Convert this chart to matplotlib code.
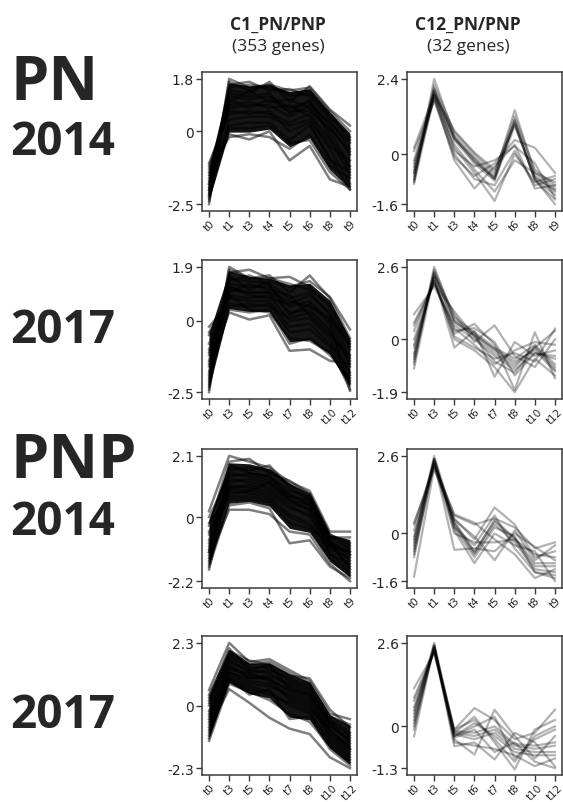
import numpy as np
import matplotlib
matplotlib.use("Agg")
import matplotlib.pyplot as plt

# ---------------- data ----------------
times_2014 = ["t0", "t1", "t3", "t4", "t5", "t6", "t8", "t9"]
times_2017 = ["t0", "t3", "t5", "t6", "t7", "t8", "t10", "t12"]

col_titles = ["C1_PN/PNP", "C12_PN/PNP"]
col_counts = ["(353 genes)", "(32 genes)"]
row_groups = ["PN", "PNP"]
row_years = ["2014", "2017", "2014", "2017"]

# y tick values (max, 0, min) per panel
ticks_pn14_c1 = [1.8, 0, -2.5]
ticks_pn14_c12 = [2.4, 0, -1.6]
ticks_pn17_c1 = [1.9, 0, -2.5]
ticks_pn17_c12 = [2.6, 0, -1.9]
ticks_pnp14_c1 = [2.1, 0, -2.2]
ticks_pnp14_c12 = [2.6, 0, -1.6]
ticks_pnp17_c1 = [2.3, 0, -2.3]
ticks_pnp17_c12 = [2.6, 0, -1.3]

pn14_c1 = [
    [-2.5, 1.8, 1.5, 1.6, 1.2, 1.3, 0.6, -0.3],
    [-2.2, 1.6, 1.7, 1.4, 1.45, 1.2, 0.4, -0.6],
    [-2.0, 1.4, 1.3, 1.7, 1.0, 1.55, 0.75, 0.2],
    [-1.8, 1.2, 1.1, 1.2, 0.8, 1.0, 0.2, -0.8],
    [-1.5, 1.0, 1.4, 1.0, 1.1, 0.8, 0.0, -1.2],
    [-1.2, 0.8, 0.9, 0.9, 0.5, 0.9, 0.3, -0.4],
    [-1.1, 0.6, 0.7, 0.6, 0.3, 0.6, -0.3, -1.5],
    [-1.9, 0.4, 0.5, 0.5, 0.2, 0.4, -0.6, -1.8],
    [-2.3, 0.2, 0.3, 0.3, -0.3, 0.2, -0.9, -2.0],
    [-1.4, -0.2, -0.1, -0.2, -0.6, -0.1, -1.2, -1.6],
    [-1.7, -0.1, -0.28, 0.0, -1.0, -0.5, -1.65, -1.9],
    [-2.4, 1.3, 1.2, 1.3, 0.6, 1.1, -0.2, -1.3],
    [-1.6, 0.9, 1.0, 0.8, 0.9, 0.5, -0.5, -1.0],
    [-2.1, 1.5, 1.6, 1.5, 1.3, 1.4, 0.5, -0.2],
    [-1.3, 0.7, 0.6, 0.7, 0.0, 0.3, -1.0, -1.4],
    [-2.0, 1.1, 0.8, 1.1, 0.7, 0.7, 0.1, -0.7],
    [-1.8, 0.1, 0.1, 0.2, -0.4, -0.3, -1.4, -2.0],
    [-2.2, 1.7, 1.4, 1.6, 1.4, 1.5, 0.7, 0.0],
]

pn17_c1 = [
    [-2.5, 1.9, 1.5, 1.6, 1.0, 1.6, 0.8, -0.6],
    [-2.2, 1.7, 1.8, 1.5, 1.55, 1.2, 0.5, -0.9],
    [-1.8, 1.5, 1.4, 1.3, 0.8, 1.0, 0.2, -1.3],
    [-1.4, 1.3, 1.2, 1.2, 0.5, 0.7, 0.0, -1.6],
    [-1.0, 1.1, 1.0, 1.0, 0.3, 0.4, -0.3, -1.9],
    [-0.5, 0.9, 0.8, 0.9, 0.0, 0.1, -0.6, -2.2],
    [-0.2, 0.6, 0.5, 0.6, -0.4, -0.3, -0.9, -2.4],
    [-2.0, 0.4, 0.3, 0.4, -0.8, -0.6, -1.2, -2.0],
    [-1.6, 0.3, 0.05, 0.2, -1.05, -1.0, -1.4, -1.5],
    [-2.4, 1.6, 1.1, 1.4, 1.2, 1.4, 0.85, -0.3],
    [-1.2, 1.2, 0.9, 0.8, 0.6, 0.9, 0.3, -1.0],
    [-0.8, 1.0, 1.3, 1.1, 0.9, 0.2, -0.5, -1.2],
    [-2.1, 1.4, 1.6, 1.3, 0.2, 0.6, -0.1, -2.45],
    [-1.5, 0.8, 0.7, 0.7, -0.2, -0.1, -0.8, -1.8],
    [-1.9, 1.8, 1.5, 1.5, 1.3, 1.1, 0.6, -0.7],
    [-1.1, 0.5, 0.6, 0.5, 0.1, 0.3, -0.4, -1.4],
    [-2.3, 1.2, 1.0, 1.0, 0.7, 0.5, 0.1, -0.8],
    [-0.4, 0.9, 0.4, 0.3, -0.6, -0.7, -1.1, -2.1],
]

pnp14_c1 = [
    [0.2, 2.1, 1.9, 1.7, 1.2, 0.9, -0.5, -0.5],
    [-0.3, 1.9, 2.0, 1.5, 1.25, 0.8, -0.6, -0.9],
    [-0.8, 1.7, 1.6, 1.77, 1.0, 0.6, -0.7, -1.1],
    [-1.2, 1.5, 1.4, 1.3, 0.8, 0.4, -0.8, -1.3],
    [-1.5, 1.3, 1.2, 1.1, 0.6, 0.2, -0.9, -1.5],
    [-1.8, 1.1, 1.0, 0.9, 0.4, 0.0, -1.0, -1.7],
    [-1.0, 0.9, 0.8, 0.7, 0.1, -0.2, -1.2, -1.9],
    [-0.5, 0.6, 0.6, 0.5, -0.2, -0.4, -1.4, -2.0],
    [-1.4, 0.25, 0.25, 0.1, -0.5, -0.6, -1.6, -2.2],
    [-1.7, 0.4, 0.5, 0.3, -0.9, -0.8, -1.7, -2.1],
    [0.0, 1.4, 1.5, 1.4, 0.9, 0.7, -0.7, -0.7],
    [-0.6, 1.2, 1.3, 1.2, 0.7, 0.5, -0.9, -1.2],
    [-1.1, 1.0, 1.1, 1.0, 0.5, 0.3, -1.1, -1.4],
    [-1.3, 1.6, 1.7, 1.6, 1.1, 0.8, -0.6, -1.0],
    [-0.9, 0.8, 0.9, 0.8, 0.3, 0.1, -1.3, -1.6],
    [-1.6, 1.8, 1.5, 1.4, 0.7, 0.6, -0.8, -1.8],
    [-0.2, 0.7, 0.7, 0.6, 0.0, -0.3, -1.0, -1.2],
    [-1.2, 1.0, 0.9, 1.2, 0.6, 0.4, -0.9, -1.3],
]

pnp17_c1 = [
    [0.57, 2.3, 1.6, 1.7, 1.3, 0.9, -0.3, -0.5],
    [0.3, 2.0, 1.65, 1.5, 1.1, 1.0, -0.15, -0.8],
    [0.0, 1.8, 1.4, 1.4, 0.9, 0.6, -0.5, -1.0],
    [-0.3, 1.6, 1.3, 1.2, 0.7, 0.4, -0.7, -1.3],
    [-0.6, 1.4, 1.1, 1.0, 0.5, 0.2, -0.9, -1.5],
    [-0.9, 1.2, 0.9, 0.8, 0.3, 0.0, -1.1, -1.7],
    [-1.1, 1.0, 0.7, 0.5, 0.0, -0.3, -1.3, -1.9],
    [-1.3, 0.8, 0.5, 0.2, -0.3, -0.6, -1.5, -2.1],
    [-0.8, 0.6, 0.1, -0.45, -0.85, -1.05, -1.9, -2.3],
    [0.4, 1.9, 1.5, 1.6, 1.2, 0.8, -0.4, -0.7],
    [0.1, 1.7, 1.2, 1.3, 1.0, 0.7, -0.6, -1.1],
    [-0.2, 1.5, 1.0, 1.1, 0.8, 0.5, -0.8, -1.2],
    [-0.5, 1.3, 1.2, 0.9, 0.6, 0.3, -1.0, -1.6],
    [-1.0, 1.1, 0.8, 0.7, 0.4, 0.1, -1.2, -1.8],
    [-0.7, 0.9, 0.6, 0.4, 0.1, -0.2, -1.4, -2.0],
    [0.2, 2.1, 1.3, 1.5, 0.6, 0.4, -0.6, -1.4],
    [-0.4, 1.2, 1.0, 1.0, 0.2, -0.1, -0.9, -1.6],
    [-1.2, 1.0, 0.4, 0.6, -0.5, -0.4, -1.6, -2.2],
]

pn14_c12 = [
    [-0.9, 2.4, 0.6, -0.1, -0.7, 1.4, -0.6, -1.1],
    [-0.8, 2.1, 0.5, -0.2, -0.8, 1.1, -0.7, -1.2],
    [-0.7, 2.0, 0.55, -0.25, -0.75, 1.0, -0.8, -1.3],
    [-0.95, 1.9, 0.45, -0.3, -0.85, 0.9, -0.75, -1.15],
    [-0.6, 2.2, 0.7, 0.0, -0.6, 1.2, -0.5, -1.0],
    [0.2, 1.9, 0.75, 0.05, -0.5, 0.95, -0.8, -1.6],
    [-0.85, 2.05, 0.5, -0.15, -0.8, 1.05, -0.85, -1.45],
    [-0.3, 1.8, 0.2, -0.6, -1.5, 0.0, -0.9, -0.7],
    [0.1, 1.7, -0.1, -0.7, -0.3, 0.45, 0.2, -0.6],
    [-0.5, 1.85, -0.2, -1.1, -0.4, 0.3, -1.1, -1.0],
    [-0.4, 1.9, 0.3, -0.5, -1.2, -0.2, -0.6, -0.9],
    [-0.2, 2.0, 0.1, -0.4, -0.2, 0.25, -0.3, -1.4],
    [-0.6, 1.75, 0.0, -0.8, -1.0, 0.1, -1.0, -0.8],
]

pn17_c12 = [
    [-0.9, 2.6, 0.7, 0.2, -0.4, -0.9, -0.3, -1.1],
    [-0.8, 2.4, 0.65, 0.1, -0.5, -1.0, -0.25, -1.0],
    [-1.05, 2.3, 0.6, 0.15, -0.35, -0.8, -0.4, -1.15],
    [-0.7, 2.5, 0.8, 0.25, -0.3, -0.7, -0.2, -0.9],
    [0.9, 1.9, 0.5, 0.0, -0.6, -1.1, -0.5, -0.6],
    [0.6, 2.0, 1.0, 0.1, -0.8, -1.2, -0.3, 0.3],
    [-0.3, 2.2, -0.3, 0.3, -1.35, -0.1, -0.6, -0.4],
    [0.3, 2.1, 0.2, 0.55, -0.2, -1.82, 0.25, -1.4],
    [-0.5, 2.3, 0.9, -0.1, 0.5, -0.6, -1.0, 0.0],
    [0.5, 2.0, 0.4, -0.2, -0.9, -0.4, -0.1, -0.2],
    [-0.6, 2.4, 0.3, 0.4, -0.1, -1.3, -0.5, -0.7],
    [0.0, 2.1, 0.1, -0.3, -0.7, -0.5, -0.8, 0.38],
    [-0.2, 2.2, 0.0, -0.4, -1.0, -1.9, -0.7, -1.3],
]

pnp14_c12 = [
    [-0.3, 2.6, 0.4, -0.6, 0.4, -0.2, -1.1, -1.1],
    [-0.5, 2.5, 0.3, -0.7, 0.3, -0.3, -1.2, -1.3],
    [-0.8, 2.4, 0.35, -0.65, 0.45, -0.15, -1.0, -1.0],
    [-0.2, 2.5, 0.2, -0.8, 0.2, -0.1, -1.3, -1.5],
    [0.3, 2.3, 0.6, 0.3, 0.5, 0.2, -0.5, -0.3],
    [-1.45, 2.2, 0.5, -0.2, 0.87, 0.3, -0.8, -0.6],
    [0.1, 2.4, -0.55, -0.5, -0.6, 0.0, -0.45, -0.9],
    [-0.6, 2.3, 0.64, 0.36, -0.2, -0.7, -1.5, -1.2],
    [-0.4, 2.45, 0.1, -1.0, 0.0, -0.4, -0.6, -1.6],
    [0.36, 2.15, 0.45, -0.1, -0.9, 0.1, -0.9, -0.4],
    [-0.7, 2.5, 0.2, -0.4, 0.6, -0.5, -1.3, -1.4],
    [-0.1, 2.35, 0.0, -0.3, -0.3, -0.2, -0.7, -0.8],
]

pnp17_c12 = [
    [0.4, 2.6, -0.2, -0.3, -0.1, -0.6, -0.7, -0.6],
    [0.3, 2.5, -0.25, -0.4, -0.2, -0.7, -0.8, -0.8],
    [0.5, 2.4, -0.15, -0.2, 0.0, -0.55, -0.6, -0.5],
    [0.1, 2.45, -0.3, 0.1, -0.3, -0.8, -0.9, -0.9],
    [1.19, 2.3, -0.1, 0.57, 0.2, -0.4, -0.2, 0.52],
    [0.9, 2.35, -0.4, -0.88, 0.52, -0.3, -1.0, -0.3],
    [-0.31, 2.5, -0.62, -0.5, -1.03, -0.2, -0.5, -1.24],
    [0.6, 2.4, -0.2, 0.3, -0.5, -1.34, -0.1, 0.2],
    [0.0, 2.55, -0.5, -0.6, -0.7, -0.9, -1.24, -1.0],
    [0.8, 2.3, -0.3, 0.0, 0.3, -1.0, -0.4, -0.1],
    [0.2, 2.45, -0.35, -0.1, -0.8, -0.5, -1.1, -1.3],
    [-0.1, 2.5, -0.1, 0.2, -0.4, -1.1, -0.3, 0.0],
]

# ---------------- layout ----------------
W, H = 563, 803
fig = plt.figure(figsize=(W / 100, H / 100), dpi=100)
fig.patch.set_facecolor("white")

col_left_px = [202, 407]
ax_w_px = 155
row_top_px = [73, 261, 450, 637]
ax_h_px = 139

panels = [
    [(times_2014, pn14_c1, ticks_pn14_c1), (times_2014, pn14_c12, ticks_pn14_c12)],
    [(times_2017, pn17_c1, ticks_pn17_c1), (times_2017, pn17_c12, ticks_pn17_c12)],
    [(times_2014, pnp14_c1, ticks_pnp14_c1), (times_2014, pnp14_c12, ticks_pnp14_c12)],
    [(times_2017, pnp17_c1, ticks_pnp17_c1), (times_2017, pnp17_c12, ticks_pnp17_c12)],
]

spine_col = "#3a3a3a"
text_col = "#262626"

for r in range(4):
    for c in range(2):
        times, prof, yt = panels[r][c]
        ax = fig.add_axes([col_left_px[c] / W, 1 - (row_top_px[r] + ax_h_px) / H,
                           ax_w_px / W, ax_h_px / H])
        data = np.array(prof, dtype=float)
        x = np.arange(len(times))
        if c == 0:
            lo, hi = np.percentile(data, [8, 92], axis=0)
            ax.fill_between(x, lo, hi, color="#161616", lw=0, zorder=1)
            for row in data:
                ax.plot(x, row, color="black", alpha=0.5, lw=1.8, zorder=2)
        else:
            for row in data:
                ax.plot(x, row, color="black", alpha=0.3, lw=1.6, zorder=2)
        ymax, _, ymin = yt
        rng = ymax - ymin
        ax.set_ylim(ymin - 0.055 * rng, ymax + 0.055 * rng)
        ax.set_xlim(-0.35, len(times) - 1 + 0.35)
        ax.set_yticks(yt)
        ax.set_yticklabels([("%g" % v) for v in yt], fontsize=10, color=text_col,
                           family="DejaVu Sans")
        ax.set_xticks(x)
        ax.set_xticklabels(times, fontsize=7.5, color=text_col, family="DejaVu Sans")
        ax.tick_params(axis="both", direction="out", length=4, width=1.0,
                       color=spine_col, pad=2)
        ax.tick_params(axis="x", pad=1)
        for lbl in ax.get_xticklabels():
            lbl.set_rotation(45)
            lbl.set_ha("center")
            lbl.set_va("top")
        for s in ax.spines.values():
            s.set_color(spine_col)
            s.set_linewidth(1.1)

# column titles
title_cx = [278, 468]
for c in range(2):
    fig.text(title_cx[c] / W, 1 - 25 / H, col_titles[c], ha="center", va="center",
             fontsize=12.5, fontweight="bold", family="Open Sans", color=text_col)
    fig.text(title_cx[c] / W, 1 - 47 / H, col_counts[c], ha="center", va="center",
             fontsize=12.5, family="Open Sans", color=text_col)

# row labels
fig.text(10 / W, 1 - 100 / H, row_groups[0], ha="left", va="baseline",
         fontsize=44, fontweight="bold", family="Open Sans", color=text_col)
fig.text(10 / W, 1 - 478 / H, row_groups[1], ha="left", va="baseline",
         fontsize=44, fontweight="bold", family="Open Sans", color=text_col)
year_base_px = [155, 343, 535, 728]
for i, yb in enumerate(year_base_px):
    fig.text(10 / W, 1 - yb / H, row_years[i], ha="left", va="baseline",
             fontsize=33, fontweight="bold", family="Open Sans", color=text_col)

fig.savefig("out.png", dpi=100, facecolor="white")
